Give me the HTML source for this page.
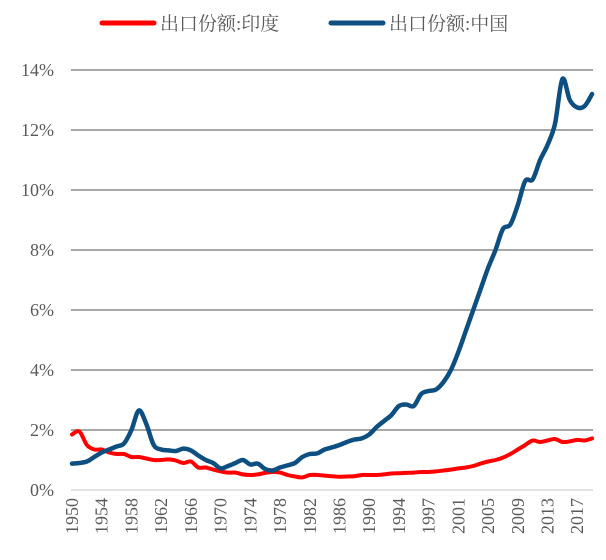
<!DOCTYPE html>
<html><head><meta charset="utf-8"><style>
body{margin:0;background:#fff;width:606px;height:555px;overflow:hidden}
svg text{font-family:"Liberation Serif","Noto Serif CJK SC",serif;fill:#595959}
</style></head><body>
<svg id="chart" width="606" height="555" viewBox="0 0 606 555">
<g>
<line x1="102" y1="23" x2="154" y2="23" stroke="#ff0000" stroke-width="5" stroke-linecap="round"/>
<text x="160" y="30" font-size="19">出口份额:印度</text>
<line x1="331" y1="23" x2="383" y2="23" stroke="#0d4f80" stroke-width="5" stroke-linecap="round"/>
<text x="389" y="30" font-size="19">出口份额:中国</text>
</g>
<g id="grid"></g><g id="ylab"></g><g id="xlab"></g><g id="series"></g>
</svg>
<script>
const categories = [];
for (let y = 1950; y <= 1994; y++) categories.push(String(y));
categories.push("1995","1995","1996");
for (let y = 1997; y <= 2019; y++) categories.push(String(y));
const yTicks = [0,2,4,6,8,10,12,14];
const indiaValues = [1.85,1.95,1.5,1.35,1.35,1.25,1.2,1.2,1.1,1.1,1.05,1.0,1.0,1.02,0.98,0.9,0.95,0.75,0.75,0.68,0.62,0.58,0.58,0.52,0.5,0.52,0.57,0.6,0.58,0.5,0.45,0.42,0.5,0.5,0.48,0.46,0.44,0.45,0.46,0.5,0.5,0.5,0.52,0.55,0.56,0.57,0.58,0.6,0.6,0.62,0.65,0.68,0.72,0.75,0.8,0.88,0.95,1.0,1.08,1.2,1.35,1.5,1.65,1.6,1.65,1.7,1.6,1.62,1.67,1.65,1.72];
const chinaValues = [0.88,0.9,0.95,1.1,1.25,1.35,1.45,1.55,2.0,2.65,2.2,1.5,1.35,1.32,1.3,1.38,1.32,1.15,1.0,0.9,0.72,0.8,0.9,1.0,0.85,0.88,0.7,0.65,0.75,0.82,0.9,1.1,1.2,1.22,1.35,1.42,1.5,1.6,1.68,1.72,1.85,2.1,2.3,2.5,2.8,2.85,2.8,3.2,3.3,3.35,3.6,4.0,4.6,5.3,6.0,6.7,7.4,8.0,8.7,8.85,9.5,10.3,10.35,11.0,11.5,12.2,13.7,13.0,12.75,12.8,13.2];
const NS="http://www.w3.org/2000/svg";
const X0=72, STEP=7.43, Y0=490, PER=30;
const xs=i=>X0+i*STEP, ys=v=>Y0-v*PER;
function mk(tag,attrs,parent){const e=document.createElementNS(NS,tag);for(const k in attrs)e.setAttribute(k,attrs[k]);parent.appendChild(e);return e;}
const grid=document.getElementById('grid'), ylab=document.getElementById('ylab'), xlab=document.getElementById('xlab'), ser=document.getElementById('series');
yTicks.forEach(t=>{
  const l=mk('line',{x1:71,x2:593,y1:ys(t),y2:ys(t),stroke:t===0?'#d9d9d9':'#8c8c8c','stroke-width':1.5},grid);
  
  
  const tx=mk('text',{x:54,y:ys(t)+6,'text-anchor':'end','font-size':18},ylab);
  tx.textContent=t+'%';
  
  
});
for(let i=0;i<categories.length;i+=4){
  const x=xs(i);
  const tx=mk('text',{x:0,y:0,'text-anchor':'end','font-size':18,transform:`translate(${x+6},498) rotate(-90)`},xlab);
  tx.textContent=categories[i];
  
  
}
function path(vals){
  const p=vals.map((v,i)=>[xs(i),ys(v)]);
  let d='M'+p[0][0]+','+p[0][1];
  for(let i=0;i<p.length-1;i++){
    const a=p[i-1]||p[i],b=p[i],c=p[i+1],e=p[i+2]||c;
    d+=` C${b[0]+(c[0]-a[0])/6},${b[1]+(c[1]-a[1])/6} ${c[0]-(e[0]-b[0])/6},${c[1]-(e[1]-b[1])/6} ${c[0]},${c[1]}`;
  }
  return d;
}
const pi=mk('path',{d:path(indiaValues),fill:'none',stroke:'#ff0000','stroke-width':4,'stroke-linejoin':'round','stroke-linecap':'round'},ser);


const pc=mk('path',{d:path(chinaValues),fill:'none',stroke:'#0d4f80','stroke-width':4.5,'stroke-linejoin':'round','stroke-linecap':'round'},ser);


</script>
</body></html>
